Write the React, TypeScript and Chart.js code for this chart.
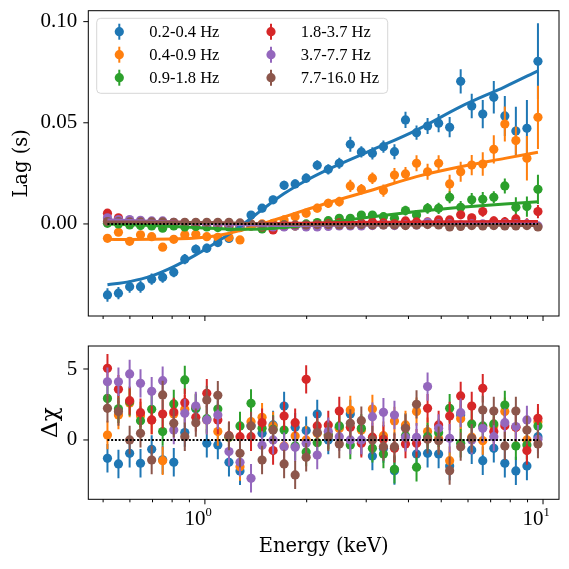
import React, { useEffect, useRef } from "react";
import { Chart, registerables } from "chart.js";

Chart.register(...registerables);

// ---------------- data ----------------
const energies = [0.515, 0.555, 0.599, 0.645, 0.696, 0.75, 0.809, 0.872, 0.94, 1.013, 1.092, 1.178, 1.27, 1.369, 1.476, 1.591, 1.715, 1.849, 1.993, 2.149, 2.317, 2.497, 2.692, 2.902, 3.129, 3.373, 3.636, 3.92, 4.226, 4.556, 4.912, 5.295, 5.708, 6.154, 6.634, 7.152, 7.71, 8.312, 8.961, 9.661];

const seriesLabels = ["0.2-0.4 Hz", "0.4-0.9 Hz", "0.9-1.8 Hz", "1.8-3.7 Hz", "3.7-7.7 Hz", "7.7-16.0 Hz"];

const lag02 = [-0.0351, -0.0342, -0.031, -0.031, -0.0273, -0.0264, -0.0239, -0.0174, -0.0125, -0.012, -0.0092, -0.0072, 0.0, 0.0044, 0.0078, 0.0119, 0.0191, 0.0198, 0.0226, 0.029, 0.027, 0.03, 0.0394, 0.0356, 0.0349, 0.0382, 0.0357, 0.0514, 0.0451, 0.0484, 0.0498, 0.0478, 0.0705, 0.0583, 0.0543, 0.0626, 0.0534, 0.0459, 0.0473, 0.0804];
const lag04 = [-0.0071, -0.0041, -0.0086, -0.0054, -0.0063, -0.0115, -0.0076, -0.0054, -0.0051, -0.0063, -0.0066, -0.0066, -0.0079, 0.0, 0.0, 0.0003, 0.002, 0.0036, 0.0053, 0.0078, 0.0102, 0.011, 0.0188, 0.0171, 0.0226, 0.0165, 0.0242, 0.0247, 0.03, 0.0258, 0.03, 0.0198, 0.0258, 0.0291, 0.0296, 0.0369, 0.0494, 0.0412, 0.0325, 0.0527];
const lag09 = [0.0003, 0.0, -0.0005, -0.0008, -0.001, -0.0021, -0.001, -0.0015, -0.0012, -0.0015, -0.0018, -0.0015, -0.0018, -0.001, -0.0025, -0.001, -0.0005, -0.001, 0.0, 0.0007, 0.0016, 0.0028, 0.0028, 0.0044, 0.0044, 0.0036, 0.0028, 0.0066, 0.0044, 0.0077, 0.0077, 0.0132, 0.0082, 0.0119, 0.0122, 0.0132, 0.0188, 0.0082, 0.0086, 0.0171];
const lag18 = [0.0053, 0.003, 0.0015, 0.001, 0.0008, 0.0005, 0.0005, 0.0003, 0.0, 0.0, -0.0005, -0.0008, -0.001, -0.001, -0.0015, -0.003, -0.0012, -0.001, -0.0008, -0.0005, 0.0, 0.0005, 0.0, 0.0005, 0.001, 0.0005, 0.0, 0.0015, 0.001, 0.001, 0.002, 0.002, 0.0045, 0.003, 0.0061, 0.0015, 0.001, 0.0025, 0.0, 0.0061];
const lag37 = [0.003, 0.0022, 0.0022, 0.0018, 0.0015, 0.0015, 0.0008, 0.0005, 0.0005, 0.0, 0.0, 0.0, -0.0005, -0.0008, -0.001, -0.0015, -0.0015, -0.001, -0.0015, -0.0015, -0.0012, -0.001, -0.001, -0.001, -0.0008, -0.0005, -0.0008, -0.0005, -0.0005, 0.0008, 0.0, 0.0, -0.0005, 0.0, 0.0, -0.0005, 0.0, 0.0, 0.0, -0.001];
const lag77 = [0.0012, 0.0012, 0.001, 0.001, 0.001, 0.001, 0.0008, 0.0008, 0.0008, 0.0008, 0.0008, 0.0008, 0.0005, 0.0, -0.0003, -0.0005, -0.0005, -0.0005, -0.0005, -0.0003, -0.0003, -0.0005, -0.0005, -0.0003, -0.0005, -0.0005, -0.0005, -0.0008, -0.0005, -0.0003, -0.0005, -0.0015, -0.0012, -0.0008, -0.001, -0.0008, -0.001, -0.001, -0.0008, -0.0015];

const err02 = [0.0033, 0.003, 0.003, 0.003, 0.0028, 0.0027, 0.0025, 0.0025, 0.0023, 0.0022, 0.002, 0.002, 0.002, 0.002, 0.002, 0.002, 0.0022, 0.0022, 0.0023, 0.0025, 0.0025, 0.0027, 0.0037, 0.0028, 0.003, 0.003, 0.0037, 0.004, 0.0035, 0.004, 0.0045, 0.005, 0.006, 0.006, 0.007, 0.008, 0.0099, 0.012, 0.014, 0.0188];
const err04 = [0.0015, 0.0015, 0.0015, 0.0015, 0.0015, 0.0016, 0.0016, 0.0016, 0.0016, 0.0017, 0.0017, 0.0017, 0.0018, 0.0018, 0.0018, 0.0019, 0.002, 0.002, 0.0021, 0.0022, 0.0023, 0.0024, 0.003, 0.0026, 0.0028, 0.003, 0.0035, 0.0035, 0.004, 0.004, 0.004, 0.0045, 0.005, 0.005, 0.0058, 0.007, 0.0086, 0.007, 0.011, 0.0156];
const err09 = [0.0012, 0.0012, 0.0012, 0.0012, 0.0012, 0.0012, 0.0012, 0.0012, 0.0012, 0.0012, 0.0012, 0.0013, 0.0013, 0.0013, 0.0013, 0.0014, 0.0014, 0.0015, 0.0015, 0.0016, 0.0016, 0.0017, 0.0018, 0.0019, 0.002, 0.0021, 0.0022, 0.0024, 0.0025, 0.0027, 0.0028, 0.003, 0.0032, 0.0034, 0.0036, 0.003, 0.0037, 0.005, 0.005, 0.0072];
const err18 = [0.0012, 0.0011, 0.0011, 0.0011, 0.0011, 0.0011, 0.0011, 0.0011, 0.0011, 0.0011, 0.0011, 0.0011, 0.0011, 0.0011, 0.0011, 0.0011, 0.0011, 0.0012, 0.0012, 0.0012, 0.0012, 0.0013, 0.0013, 0.0013, 0.0014, 0.0014, 0.0015, 0.0015, 0.0016, 0.0016, 0.0017, 0.0018, 0.0019, 0.002, 0.0025, 0.0022, 0.0024, 0.0026, 0.0028, 0.0033];
const err37 = [0.0012, 0.0011, 0.0011, 0.001, 0.001, 0.001, 0.001, 0.001, 0.001, 0.001, 0.001, 0.001, 0.001, 0.001, 0.001, 0.001, 0.001, 0.001, 0.001, 0.001, 0.0011, 0.0011, 0.0011, 0.0011, 0.0011, 0.0012, 0.0012, 0.0012, 0.0012, 0.0013, 0.0013, 0.0013, 0.0014, 0.0014, 0.0014, 0.0015, 0.0015, 0.0016, 0.0016, 0.0017];
const err77 = [0.001, 0.001, 0.001, 0.001, 0.001, 0.001, 0.001, 0.001, 0.001, 0.001, 0.001, 0.001, 0.001, 0.001, 0.001, 0.001, 0.001, 0.001, 0.001, 0.001, 0.001, 0.001, 0.001, 0.001, 0.001, 0.0011, 0.0011, 0.0011, 0.0011, 0.0011, 0.0012, 0.0012, 0.0012, 0.0012, 0.0013, 0.0013, 0.0013, 0.0014, 0.0014, 0.0015];

const modelEnergies = [0.515, 0.599, 0.696, 0.809, 0.94, 1.092, 1.27, 1.476, 1.715, 1.993, 2.317, 3.129, 4.226, 5.708, 7.71, 9.661];
const model02 = [-0.0301, -0.0285, -0.0257, -0.0211, -0.0153, -0.0087, -0.0013, 0.007, 0.015, 0.0215, 0.027, 0.0366, 0.0464, 0.058, 0.0678, 0.0757];
const model04 = [-0.0076, -0.0077, -0.0076, -0.0074, -0.007, -0.0057, -0.0033, 0.0, 0.0035, 0.007, 0.0105, 0.0168, 0.0234, 0.0283, 0.0324, 0.0354];
const model09 = [0.0, -0.0004, -0.0008, -0.0013, -0.0018, -0.0023, -0.0026, -0.0025, -0.0018, -0.0007, 0.0007, 0.0036, 0.0061, 0.0082, 0.0099, 0.011];
const model18 = [0.0015, 0.0013, 0.0011, 0.0009, 0.0006, 0.0004, 0.0002, 0.0002, 0.0003, 0.0004, 0.0006, 0.0008, 0.001, 0.0011, 0.0012, 0.0012];
const model37 = [0.002, 0.0017, 0.0013, 0.0009, 0.0005, 0.0001, -0.0003, -0.0006, -0.0008, -0.0008, -0.0007, -0.0005, -0.0003, -0.0002, -0.0001, -0.0001];
const model77 = [0.001, 0.001, 0.0009, 0.0008, 0.0007, 0.0006, 0.0004, 0.0001, -0.0002, -0.0003, -0.0004, -0.0005, -0.0005, -0.0006, -0.0007, -0.0008];

const res02 = [-1.29, -1.69, -0.94, -1.64, -0.66, -1.4, -1.57, 0.52, 2.2, -0.23, -0.35, -1.57, -2.18, 1.0, 0.47, 1.06, 2.39, 0.9, 0.66, 1.83, 0.0, 0.9, 1.83, -0.12, -1.13, -0.6, -2.16, 0.9, -0.99, -0.94, -0.99, -1.83, 1.76, -0.7, -1.46, -0.59, -1.64, -2.18, -1.83, 0.23];
const res04 = [0.35, 1.76, 2.6, 1.7, 1.4, -1.46, 1.83, 2.16, 2.3, 1.4, 0.59, 0.2, -1.88, 1.29, 1.6, 0.99, -0.42, 0.28, 0.0, 0.47, 0.35, 0.8, 2.11, 0.7, 2.18, 0.3, 1.34, 1.06, 2.0, 0.59, 0.1, -1.46, 1.5, 0.2, -0.05, 1.0, 2.0, 0.89, 0.0, 1.29];
const res09 = [2.93, 2.2, 2.7, 1.36, 2.16, 0.59, 2.54, 4.23, 2.23, 1.5, 2.18, 0.2, 0.99, 2.58, 0.82, 0.75, 0.7, -0.42, -0.85, -0.19, 0.35, 0.99, -0.35, 0.82, -0.59, -0.99, -2.07, 0.3, -1.92, 0.23, 0.5, 2.23, -0.23, 1.13, 0.99, 1.13, 2.46, -0.42, -0.35, 0.99];
const res18 = [5.05, 3.57, 2.77, 1.92, 1.41, 1.83, 1.97, 2.63, 1.6, 3.29, 1.41, 0.3, 0.23, 0.23, 1.22, -0.75, 1.69, 1.22, 4.27, 0.99, 1.06, 2.04, 0.89, -0.23, 0.2, 0.05, -0.59, -0.28, -0.23, 2.23, 1.06, 1.69, 3.1, 2.39, 3.64, 0.59, 1.0, 0.89, -0.75, 1.53];
const res37 = [4.1, 4.1, 4.65, 3.99, 3.43, 4.18, 0.7, 1.88, 2.39, 1.41, 1.76, -0.82, -1.57, -2.7, -0.38, 0.0, -0.47, -0.52, -0.23, -1.06, 0.59, 0.23, 0.0, 0.0, 1.64, 1.95, 1.76, 0.19, 0.19, 3.76, 0.82, 0.12, 1.92, 0.0, 0.82, 0.23, 1.22, 0.95, 1.41, 0.05];
const res77 = [2.23, 2.0, 0.0, 0.47, -1.41, 3.17, 1.17, 0.23, 1.22, 2.82, 3.15, 0.28, -0.94, 0.99, -1.41, 0.7, -1.69, -2.46, -1.22, 0.52, 0.23, -0.28, 1.17, 1.36, 0.0, -0.47, -0.47, 0.82, 2.51, 0.05, -0.05, -2.16, -0.47, 0.12, 2.11, 2.04, -0.42, 2.04, 0.7, -0.28];
const residualSigma = 1;

const lagTicks = [0, 0.05, 0.1];
const residualTicks = [0, 5];
const xMajorTicks = [1, 10];
const xMajorExponents = ["0", "1"];
const xMinorTicks = [0.5, 0.6, 0.7, 0.8, 0.9, 2, 3, 4, 5, 6, 7, 8, 9];

// ---------------- styles ----------------
const COLORS = ["#1f77b4", "#ff7f0e", "#2ca02c", "#d62728", "#9467bd", "#8c564b"];
const SERIF = "'Liberation Serif', 'Times New Roman', serif";
const TITLE_SERIF = "'DejaVu Serif', serif";

const lagSeries = [lag02, lag04, lag09, lag18, lag37, lag77];
const lagErrors = [err02, err04, err09, err18, err37, err77];
const modelSeries = [model02, model04, model09, model18, model37, model77];
const resSeries = [res02, res04, res09, res18, res37, res77];

function pointDatasets(values: number[][], errors: (number[] | number)[]) {
  return values.map((vals, k) => ({
    type: "line",
    label: seriesLabels[k],
    data: energies.map((e, i) => ({ x: e, y: vals[i] })),
    showLine: false,
    pointRadius: 4.6,
    pointHoverRadius: 4.6,
    pointBorderWidth: 0,
    pointBackgroundColor: COLORS[k],
    borderColor: COLORS[k],
    errors: errors[k],
    order: 30 - k,
  }));
}

function zeroLine() {
  return {
    type: "line",
    label: "zero",
    data: [
      { x: energies[0], y: 0 },
      { x: energies[energies.length - 1], y: 0 },
    ],
    borderColor: "#000",
    borderWidth: 2,
    borderDash: [2, 1.7],
    pointRadius: 0,
    order: 0,
  };
}

const errorBarPlugin = {
  id: "errorBars",
  beforeDatasetDraw(chart: any, args: any) {
    const ds = chart.data.datasets[args.index];
    if (ds.errors == null) return;
    const { ctx, chartArea: a } = chart;
    const xs = chart.scales.x;
    const ys = chart.scales.y;
    ctx.save();
    ctx.beginPath();
    ctx.rect(a.left, a.top, a.right - a.left, a.bottom - a.top);
    ctx.clip();
    ctx.strokeStyle = ds.borderColor;
    ctx.lineWidth = 2;
    ds.data.forEach((p: any, i: number) => {
      const e = Array.isArray(ds.errors) ? ds.errors[i] : ds.errors;
      const px = xs.getPixelForValue(p.x);
      ctx.beginPath();
      ctx.moveTo(px, ys.getPixelForValue(p.y - e));
      ctx.lineTo(px, ys.getPixelForValue(p.y + e));
      ctx.stroke();
    });
    ctx.restore();
  },
};

const framePlugin = {
  id: "frameTicks",
  afterDatasetsDraw(chart: any) {
    const { ctx, chartArea: a } = chart;
    const xs = chart.scales.x;
    const ys = chart.scales.y;
    ctx.save();
    ctx.strokeStyle = "#000";
    ctx.lineWidth = 1;
    ctx.strokeRect(a.left, a.top, a.right - a.left, a.bottom - a.top);
    ctx.beginPath();
    xMajorTicks.forEach((v) => {
      const px = xs.getPixelForValue(v);
      ctx.moveTo(px, a.bottom);
      ctx.lineTo(px, a.bottom + 5);
    });
    xMinorTicks.forEach((v) => {
      const px = xs.getPixelForValue(v);
      ctx.moveTo(px, a.bottom);
      ctx.lineTo(px, a.bottom + 3);
    });
    ys.ticks.forEach((t: any) => {
      const py = ys.getPixelForValue(t.value);
      ctx.moveTo(a.left, py);
      ctx.lineTo(a.left - 5, py);
    });
    ctx.stroke();
    ctx.restore();
  },
};

const legendPlugin = {
  id: "lagLegend",
  afterDraw(chart: any) {
    const { ctx, chartArea: a } = chart;
    const bx = a.left + 8.4;
    const by = a.top + 7.6;
    const bw = 291;
    const bh = 75;
    ctx.save();
    ctx.beginPath();
    ctx.roundRect(bx, by, bw, bh, 4);
    ctx.fillStyle = "rgba(255,255,255,0.8)";
    ctx.fill();
    ctx.strokeStyle = "rgba(204,204,204,0.8)";
    ctx.lineWidth = 1;
    ctx.stroke();
    ctx.font = `16.5px ${SERIF}`;
    ctx.textBaseline = "middle";
    ctx.textAlign = "left";
    seriesLabels.forEach((label, k) => {
      const col = Math.floor(k / 3);
      const row = k % 3;
      const mx = bx + 22.6 + col * 151.7;
      const tx = bx + 52.6 + col * 151.4;
      const y = by + 13.4 + row * 23;
      ctx.strokeStyle = COLORS[k];
      ctx.lineWidth = 2;
      ctx.beginPath();
      ctx.moveTo(mx, y - 8);
      ctx.lineTo(mx, y + 8);
      ctx.stroke();
      ctx.fillStyle = COLORS[k];
      ctx.beginPath();
      ctx.arc(mx, y, 4.6, 0, Math.PI * 2);
      ctx.fill();
      ctx.fillStyle = "#000";
      ctx.fillText(label, tx, y + 1);
    });
    ctx.restore();
  },
};

const xLabelPlugin = {
  id: "xPowerLabels",
  afterDraw(chart: any) {
    const { ctx, chartArea: a } = chart;
    const xs = chart.scales.x;
    ctx.save();
    ctx.fillStyle = "#000";
    ctx.textBaseline = "alphabetic";
    xMajorTicks.forEach((v, i) => {
      const px = xs.getPixelForValue(v);
      ctx.font = `21px ${SERIF}`;
      ctx.textAlign = "right";
      ctx.fillText("10", px + 0.5, a.bottom + 25.5);
      ctx.font = `12.5px ${SERIF}`;
      ctx.textAlign = "left";
      ctx.fillText(xMajorExponents[i], px + 0.6, a.bottom + 16.5);
    });
    ctx.restore();
  },
};

function fixYWidth(w: number) {
  return (s: any) => {
    s.width = w;
    s.paddingTop = 0;
    s.paddingBottom = 0;
    s.paddingLeft = 0;
    s.paddingRight = 0;
  };
}
function fixXHeight(h: number) {
  return (s: any) => {
    s.height = h;
    s.paddingTop = 0;
    s.paddingBottom = 0;
    s.paddingLeft = 0;
    s.paddingRight = 0;
  };
}

function xScale(height: number, withTitle: boolean) {
  return {
    type: "logarithmic",
    min: 0.452,
    max: 11.15,
    bounds: "data",
    grid: { display: false, drawTicks: false },
    border: { display: false },
    ticks: { display: false },
    afterBuildTicks: (s: any) => {
      s.ticks = [...xMinorTicks, ...xMajorTicks].sort((p, q) => p - q).map((v) => ({ value: v }));
    },
    afterFit: fixXHeight(height),
    title: withTitle
      ? {
          display: true,
          text: "Energy (keV)",
          color: "#000",
          font: { family: TITLE_SERIF, size: 19.5, weight: "normal" },
          padding: { top: 0, bottom: 10.3 },
        }
      : { display: false },
  };
}

function yScale(min: number, max: number, ticks: number[], fmt: (v: number) => string, title: string, titleSize: number, titlePad: number) {
  return {
    type: "linear",
    min,
    max,
    bounds: "data",
    grid: { display: false, drawTicks: false },
    border: { display: false },
    ticks: {
      color: "#000",
      padding: 11,
      font: { family: SERIF, size: 21 },
      callback: (v: any) => fmt(Number(v)),
    },
    afterBuildTicks: (s: any) => {
      s.ticks = ticks.map((v) => ({ value: v }));
    },
    afterFit: fixYWidth(88.3),
    title: {
      display: true,
      text: title,
      color: "#000",
      font: { family: TITLE_SERIF, size: titleSize, weight: "normal" },
      padding: { top: titlePad, bottom: 0 },
    },
  };
}

function topConfig(): any {
  const models = modelSeries.map((vals, k) => ({
    type: "line",
    label: seriesLabels[k] + " model",
    data: modelEnergies.map((e, i) => ({ x: e, y: vals[i] })),
    borderColor: COLORS[k],
    borderWidth: 3,
    pointRadius: 0,
    cubicInterpolationMode: "monotone",
    order: 15 - k,
  }));
  return {
    type: "line",
    data: { datasets: [...pointDatasets(lagSeries, lagErrors), ...models, zeroLine()] },
    options: {
      responsive: false,
      animation: false,
      events: [],
      layout: { padding: { left: 0, right: 10, top: 10.7, bottom: 0 } },
      plugins: { legend: { display: false }, tooltip: { enabled: false } },
      scales: {
        x: xScale(14, false),
        y: yScale(-0.0455, 0.1054, lagTicks, (v) => v.toFixed(2), "Lag (s)", 19.5, 10),
      },
    },
    plugins: [errorBarPlugin, framePlugin, legendPlugin],
  };
}

function bottomConfig(): any {
  return {
    type: "line",
    data: {
      datasets: [
        ...pointDatasets(resSeries, resSeries.map(() => residualSigma)),
        zeroLine(),
      ],
    },
    options: {
      responsive: false,
      animation: false,
      events: [],
      layout: { padding: { left: 0, right: 10, top: 16, bottom: 0 } },
      plugins: { legend: { display: false }, tooltip: { enabled: false } },
      scales: {
        x: xScale(69.7, true),
        y: yScale(-4.18, 6.62, residualTicks, (v) => String(v), "Δχ", 23, 37),
      },
    },
    plugins: [errorBarPlugin, framePlugin, xLabelPlugin],
  };
}

export default function App() {
  const topRef = useRef<HTMLCanvasElement>(null);
  const botRef = useRef<HTMLCanvasElement>(null);
  useEffect(() => {
    const top = new Chart(topRef.current as HTMLCanvasElement, topConfig());
    const bot = new Chart(botRef.current as HTMLCanvasElement, bottomConfig());
    return () => {
      top.destroy();
      bot.destroy();
    };
  }, []);
  return (
    <div style={{ position: "fixed", left: 0, top: 0, width: 569, height: 569, background: "#fff" }}>
      <canvas ref={topRef} width={569} height={330} style={{ position: "absolute", left: 0, top: 0, width: 569, height: 330 }} />
      <canvas ref={botRef} width={569} height={239} style={{ position: "absolute", left: 0, top: 330, width: 569, height: 239 }} />
    </div>
  );
}
